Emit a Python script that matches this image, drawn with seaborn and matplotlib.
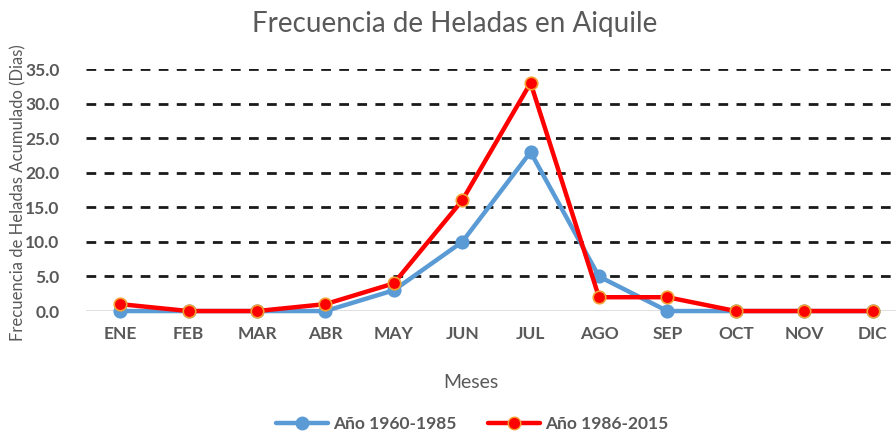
import numpy as np
import pandas as pd
import matplotlib.pyplot as plt
import seaborn as sns
from matplotlib.lines import Line2D

meses = ["ENE", "FEB", "MAR", "ABR", "MAY", "JUN", "JUL", "AGO", "SEP", "OCT", "NOV", "DIC"]
serie_1960_1985 = [0, 0, 0, 0, 3, 10, 23, 5, 0, 0, 0, 0]
serie_1986_2015 = [1, 0, 0, 1, 4, 16, 33, 2, 2, 0, 0, 0]
nombres = ["Año 1960-1985", "Año 1986-2015"]
y_ticks = [0, 5, 10, 15, 20, 25, 30, 35]

df = pd.DataFrame({
    "Mes": meses * 2,
    "x": list(range(len(meses))) * 2,
    "Dias": serie_1960_1985 + serie_1986_2015,
    "Serie": [nombres[0]] * len(meses) + [nombres[1]] * len(meses),
})

sns.set_style("white")
plt.rcParams["font.family"] = ["Lato", "DejaVu Sans"]
gris = "#595959"
azul, rojo, borde_rojo = "#5B9BD5", "#FF0000", "#F4A133"

fig = plt.figure(figsize=(8.96, 4.32), dpi=100)
ax = fig.add_axes([0.096, 0.28, 0.916, 0.56])

# gridlines: dashed black above zero, light solid line at zero
for t in y_ticks[1:]:
    ax.axhline(t, color="#1a1a1a", linestyle=(0, (3.5, 3)), linewidth=2.0, zorder=1)
ax.axhline(0, color="#d9d9d9", linewidth=1.2, zorder=1)

sns.lineplot(
    data=df, x="x", y="Dias", hue="Serie",
    palette={nombres[0]: azul, nombres[1]: rojo},
    marker="o", markersize=9, linewidth=3.2, ax=ax, zorder=3,
    legend=False,
)
for line, edge in zip(ax.lines[-2:], [azul, borde_rojo]):
    line.set_markeredgecolor(edge)
    line.set_markeredgewidth(1.2)
    line.set_clip_on(False)

ax.set_xlim(-0.5, len(meses) - 0.5)
ax.set_ylim(0, 35)
ax.set_xticks(range(len(meses)))
ax.set_xticklabels(meses, fontsize=12.5, fontweight="bold", color=gris)
ax.set_yticks(y_ticks)
ax.set_yticklabels([f"{t:.1f}" for t in y_ticks], fontsize=12.5, fontweight="bold", color=gris)
ax.tick_params(axis="x", length=0, pad=11)
ax.tick_params(axis="y", length=0, pad=19)
for s in ax.spines.values():
    s.set_visible(False)

ax.set_xlabel("")
ax.set_ylabel("")
fig.text(0.021, 0.555, "Frecuencia de Heladas Acumulado (Dias)", rotation=90,
         ha="center", va="center", fontsize=12, color=gris)
fig.text(0.525, 0.115, "Meses", ha="center", va="center", fontsize=14, color=gris)
fig.text(0.508, 0.945, "Frecuencia de Heladas en Aiquile", ha="center", va="center",
         fontsize=20, color=gris)

# legend
handles = [
    Line2D([], [], color=azul, marker="o", markersize=9, linewidth=3.2,
           markeredgecolor=azul),
    Line2D([], [], color=rojo, marker="o", markersize=9, linewidth=3.2,
           markeredgecolor=borde_rojo),
]
leg = fig.legend(handles, nombres, loc="center", bbox_to_anchor=(0.527, 0.018),
                 ncol=2, frameon=False, handlelength=3.0, columnspacing=1.8,
                 handletextpad=0.3, prop={"size": 12.5, "weight": "bold"})
for txt in leg.get_texts():
    txt.set_color(gris)

fig.savefig("out.png", dpi=100)
